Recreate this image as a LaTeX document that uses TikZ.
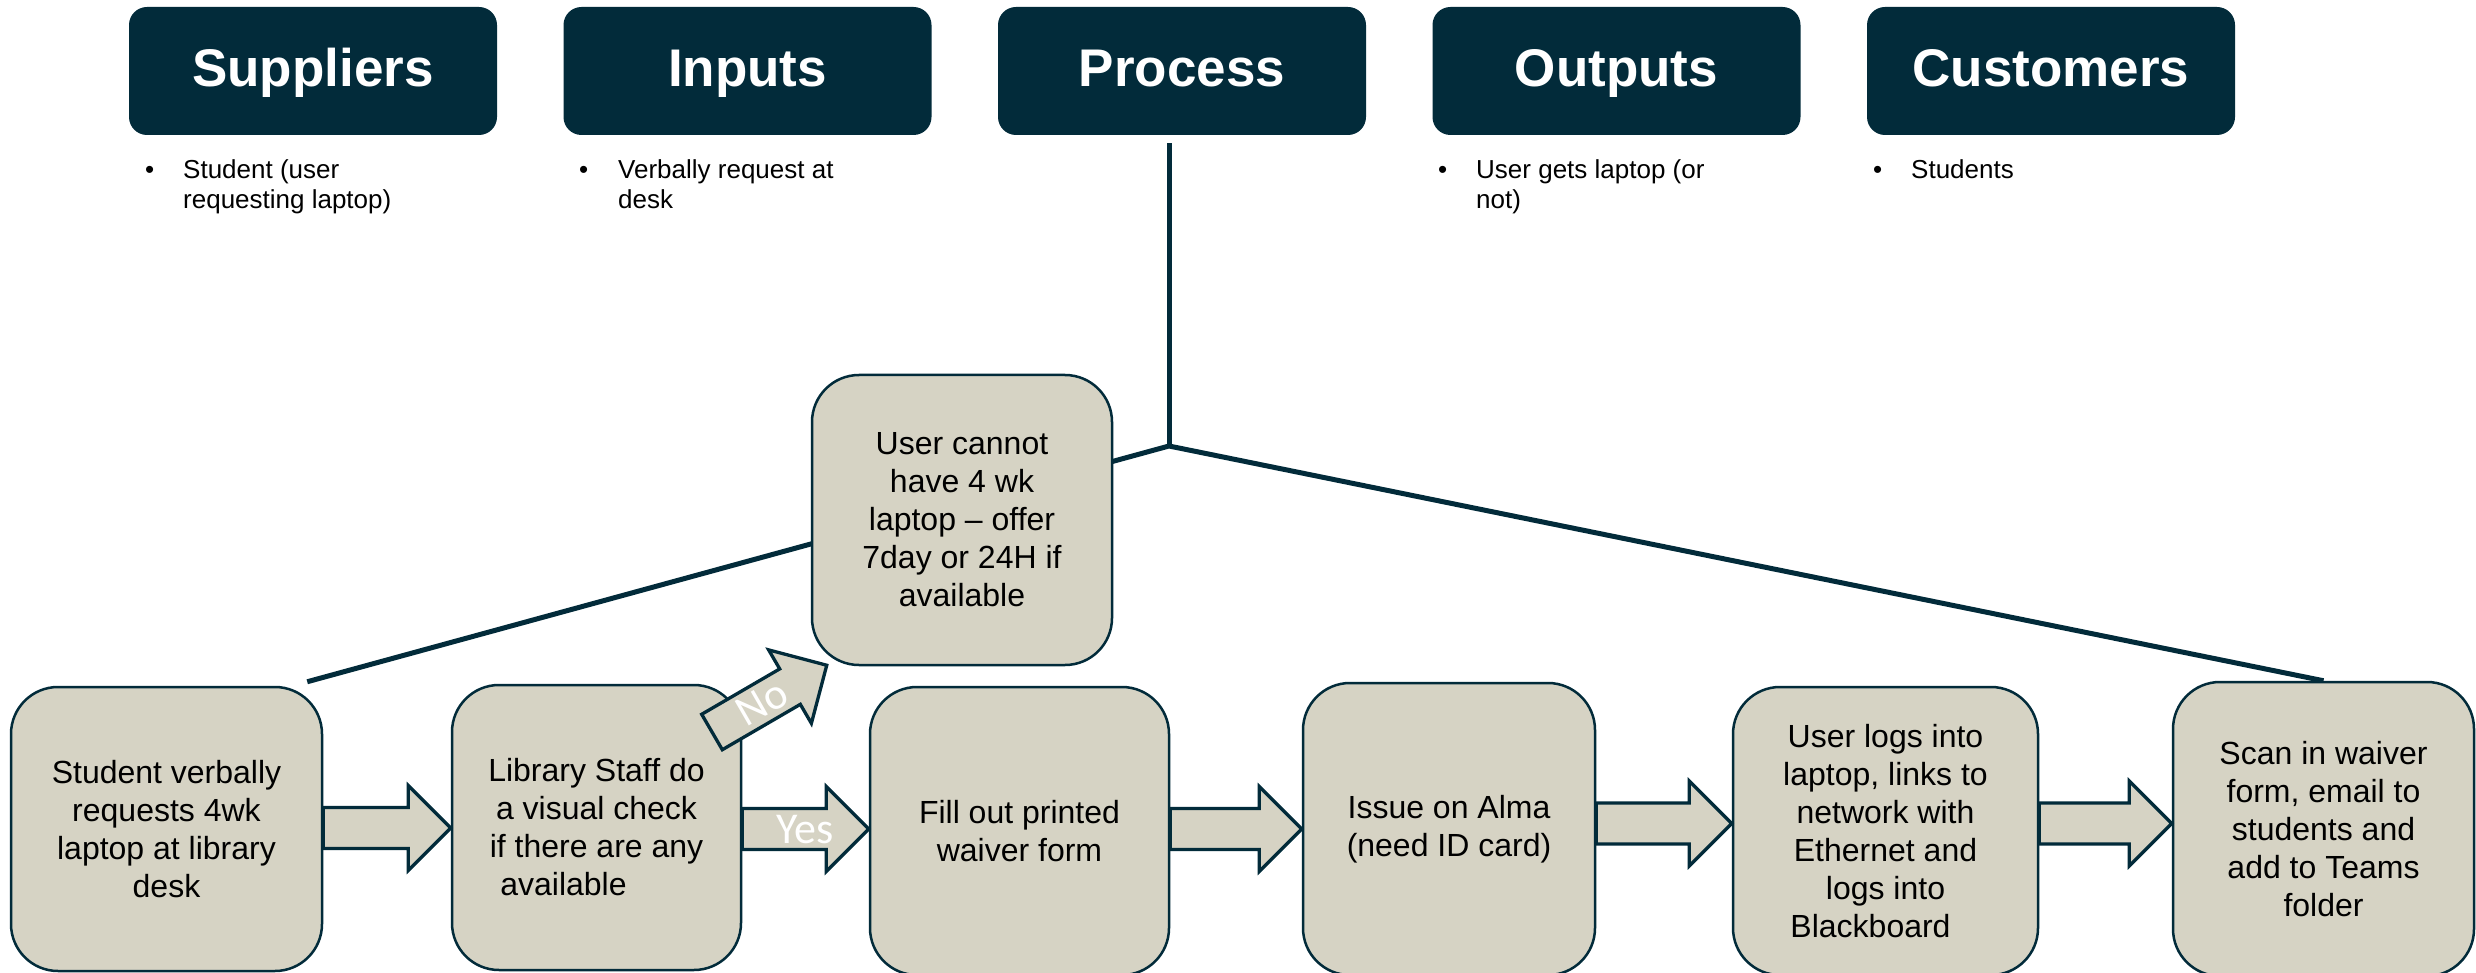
\documentclass[tikz,border=0pt]{standalone}
\usepackage{fontspec}
\setmainfont{Liberation Sans}
\newfontfamily\calibri{Carlito}
\usetikzlibrary{calc,backgrounds}
\definecolor{navy}{RGB}{2,43,58}
\definecolor{khaki}{RGB}{214,211,196}
\begin{document}
\begin{tikzpicture}[x=1pt,y=-1pt,
  hdr/.style={fill=navy, rounded corners=18pt, minimum width=368pt, minimum height=128pt, inner sep=0pt, text=white, text height=38pt, text depth=6pt, font=\fontsize{53}{60}\selectfont\bfseries},
  bul/.style={anchor=base west, align=left, inner sep=0pt, font=\fontsize{26}{30}\selectfont},
  pbox/.style={draw=navy, line width=2.5pt, fill=khaki, rounded corners=47pt, inner sep=0pt, align=center, font=\fontsize{32}{38}\selectfont},
  tree/.style={draw=navy, line width=5pt},
  barrow/.style={draw=navy, line width=3.3pt, fill=khaki, line join=miter,
    to path={let \p1=(\tikztostart), \p2=(\tikztotarget),
      \n1={atan2(\y2-\y1,\x2-\x1)}, \n2={veclen(\x2-\x1,\y2-\y1)-42.5pt} in
      (\p1) ++(\n1+90:20.5pt) -- ++(\n1:\n2) -- ++(\n1+90:22pt) -- (\p2)
      -- ++(\n1-135:60.1pt) -- ++(\n1+90:22pt) -- ++(\n1+180:\n2) -- cycle}},
  lbl/.style={text=white, font=\calibri\fontsize{44}{50}\selectfont, inner sep=0pt}
]
\useasboundingbox (0,0) rectangle (2476,973);

% header boxes
\node[hdr] (hs) at (313,71) {Suppliers};
\node[hdr] (hi) at (747.5,71) {Inputs};
\node[hdr] (hp) at (1182,71) {Process};
\node[hdr] (ho) at (1616.5,71) {Outputs};
\node[hdr] (hc) at (2051,71) {Customers};

% bullet lists (anchored at the baseline of their last line)
\node[bul] (bs) at (183,209) {\llap{•\hspace{29pt}}Student (user\\requesting laptop)};
\node[bul] (bi) at (618,209) {\llap{•\hspace{30pt}}Verbally request at\\desk};
\node[bul] (bo) at (1476,209) {\llap{•\hspace{29pt}}User gets laptop (or\\not)};
\node[bul] (bc) at (1911,179) {\llap{•\hspace{29pt}}Students};

% process boxes
\node[pbox, minimum width=311pt, minimum height=284pt] (A) at (166.5,829) {Student verbally\\requests 4wk\\laptop at library\\desk};
\node[pbox, minimum width=289pt, minimum height=285pt] (B) at (596.5,827.5) {Library Staff do\\a visual check\\if there are any\\available\hspace*{66pt}};
\node[pbox, minimum width=299pt, minimum height=288pt] (C) at (1019.5,831) {Fill out printed\\waiver form};
\node[pbox, minimum width=292pt, minimum height=292pt] (D) at (1449,829) {Issue on Alma\\(need ID card)};
\node[pbox, minimum width=305pt, minimum height=288pt] (E) at (1885.5,831) {User logs into\\laptop, links to\\network with\\Ethernet and\\logs into\\Blackboard\hspace*{30pt}};
\node[pbox, minimum width=301pt, minimum height=294pt] (F) at (2323.5,829) {Scan in waiver\\form, email to\\students and\\add to Teams\\folder};
\node[pbox, minimum width=300pt, minimum height=290pt] (G) at (962,520) {User cannot\\have 4 wk\\laptop – offer\\7day or 24H if\\available};

% tree lines
\coordinate (J) at (1169,446);
\begin{scope}[on background layer]
\draw[tree] ([xshift=-13pt,yshift=-8pt]hp.south) -- ([yshift=-2pt]J);
\draw[tree, line join=miter] ([xshift=-16pt,yshift=4pt]A.north east) -- (J) -- (F.north);
\end{scope}

% block arrows
\draw[barrow] (A.east |- 0,828) to (B.west |- 0,828);
\draw[barrow] (B.east |- 0,829) to (C.west |- 0,829);
\draw[barrow] (C.east |- 0,829) to (D.west |- 0,829);
\draw[barrow] (D.east |- 0,823.5) to (E.west |- 0,823.5);
\draw[barrow] (E.east |- 0,823.5) to (F.west |- 0,823.5);
\coordinate (nt) at (712,732);
\draw[barrow] (nt) to ([xshift=16pt,yshift=1pt]G.south west);

% arrow labels
\node[lbl] (yes) at (805,830) {Yes};
\node[lbl, rotate=30] (no) at (762,703) {No};
\end{tikzpicture}
\end{document}
